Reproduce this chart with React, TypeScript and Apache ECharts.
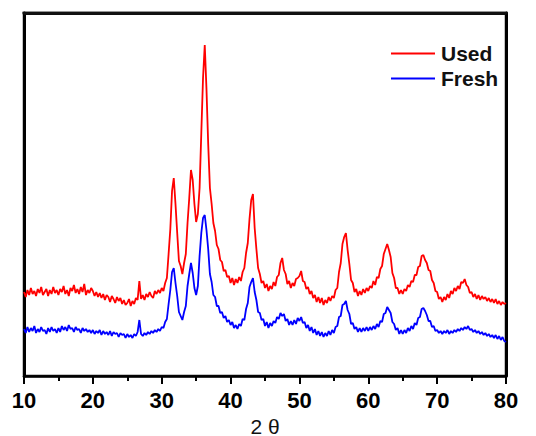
import React, { useEffect, useRef } from "react";
import * as echarts from "echarts";

// 2θ grid of the scan (degrees)
const angleStart = 10;
const angleStep = 0.25;
const xTickValues = [10, 20, 30, 40, 50, 60, 70, 80];
const seriesNames = ["Used", "Fresh"];
const yTop = 363;

// intensity (arbitrary units, offset traces), one value every 0.25°
const usedIntensity = [
  84, 79, 86, 81, 88, 82, 85, 80, 87, 83, 89, 81, 84, 87, 80, 86, 82, 89, 83, 86,
  81, 87, 84, 90, 82, 86, 80, 88, 85, 91, 83, 87, 82, 89, 84, 92, 81, 86, 83, 88,
  85, 80, 84, 79, 83, 78, 82, 76, 81, 79, 74, 80, 77, 73, 79, 75, 78, 72, 76, 71,
  73, 77, 70, 75, 72, 78, 76, 95, 77, 81, 76, 82, 79, 84, 80, 78, 85, 82, 86, 83,
  88, 85, 93, 98, 122, 147, 185, 198, 172, 143, 115, 110, 102, 113, 122, 153, 178, 206, 196, 172,
  154, 162, 188, 243, 298, 331, 287, 232, 188, 172, 153, 145, 131, 127, 116, 114, 105, 106, 99, 100,
  93, 98, 91, 97, 93, 99, 95, 104, 108, 123, 133, 157, 176, 182, 148, 127, 108, 102, 93, 95,
  88, 92, 85, 90, 87, 94, 90, 99, 101, 113, 118, 106, 102, 92, 95, 88, 93, 90, 97, 98,
  100, 105, 95, 94, 87, 89, 82, 85, 78, 81, 74, 79, 73, 78, 71, 76, 73, 79, 75, 80,
  78, 86, 88, 104, 113, 132, 139, 143, 126, 112, 96, 93, 84, 87, 80, 85, 81, 87, 83, 88,
  85, 90, 88, 95, 91, 99, 98, 107, 110, 122, 127, 132, 126, 119, 103, 98, 88, 88, 82, 86,
  82, 87, 85, 91, 89, 95, 94, 101, 101, 109, 110, 120, 121, 116, 113, 106, 105, 96, 93, 85,
  84, 77, 79, 74, 79, 76, 82, 78, 85, 82, 88, 85, 90, 87, 94, 93, 97, 91, 89, 83,
  84, 79, 82, 77, 81, 76, 80, 77, 79, 75, 78, 74, 77, 73, 77, 72, 75, 71, 74, 72,
  73,
];

const freshIntensity = [
  47, 43, 49, 44, 48, 45, 50, 43, 47, 44, 49, 45, 46, 42, 48, 44, 49, 45, 47, 43,
  48, 44, 50, 46, 49, 45, 51, 47, 48, 44, 49, 46, 47, 43, 48, 45, 47, 44, 46, 43,
  46, 42, 45, 43, 46, 41, 45, 42, 44, 41, 45, 40, 44, 42, 43, 39, 43, 41, 42, 38,
  42, 39, 41, 38, 42, 40, 44, 56, 42, 40, 43, 41, 44, 42, 45, 43, 46, 44, 47, 45,
  49, 48, 54, 57, 72, 86, 104, 108, 93, 80, 64, 60, 56, 64, 70, 90, 102, 113, 103, 88,
  81, 90, 120, 143, 158, 161, 146, 127, 102, 94, 81, 79, 70, 70, 63, 64, 58, 60, 54, 56,
  51, 54, 48, 51, 47, 52, 50, 57, 56, 67, 73, 89, 94, 98, 84, 76, 64, 63, 56, 57,
  50, 54, 48, 53, 50, 55, 53, 59, 57, 63, 60, 62, 55, 57, 51, 55, 51, 56, 52, 58,
  55, 59, 53, 54, 48, 51, 45, 49, 43, 47, 41, 45, 40, 44, 39, 43, 40, 45, 41, 46,
  43, 49, 50, 59, 60, 71, 72, 75, 66, 62, 52, 53, 47, 49, 44, 48, 44, 48, 45, 49,
  45, 49, 46, 50, 47, 52, 49, 55, 54, 62, 63, 69, 66, 63, 54, 52, 46, 48, 42, 46,
  42, 46, 43, 48, 45, 50, 47, 53, 51, 58, 59, 67, 68, 65, 61, 55, 55, 49, 50, 45,
  46, 43, 45, 42, 45, 43, 46, 42, 45, 43, 46, 44, 47, 45, 48, 46, 49, 47, 50, 46,
  47, 44, 46, 43, 45, 42, 44, 41, 43, 40, 42, 39, 41, 38, 41, 37, 40, 36, 39, 35,
  34,
];

const FONT = "'Liberation Sans', Arial, Helvetica, sans-serif";
const RED = "#ff0000";
const BLUE = "#0000ff";

const GRID = { left: 24, right: 30, top: 13, bottom: 60 };
const WIDTH = 536;
const HEIGHT = 436;

export default function App() {
  const ref = useRef<HTMLDivElement>(null);

  useEffect(() => {
    if (!ref.current) return;
    const chart = echarts.init(ref.current, null, { renderer: "svg" });
    const toPairs = (vals: number[]) =>
      vals.map((v, i) => [angleStart + i * angleStep, v]);

    const hiddenAxisBits = {
      axisTick: { show: false },
      axisLabel: { show: false },
      splitLine: { show: false },
      minorTick: { show: false },
    };

    chart.setOption({
      animation: false,
      backgroundColor: "#ffffff",
      grid: {
        ...GRID,
        outerBoundsMode: "none",
        containLabel: false,
        show: true,
        borderColor: "#111",
        borderWidth: 2.5,
      },
      graphic: [
        {
          type: "rect",
          z: 100,
          zlevel: 1,
          silent: true,
          shape: { x: GRID.left - 1.5, y: GRID.top - 1.25, width: WIDTH - GRID.left - GRID.right + 3, height: 2.5 },
          style: { fill: "#111" },
        },
      ],
      legend: {
        data: [
          { name: seriesNames[0], icon: "rect", itemStyle: { color: RED } },
          { name: seriesNames[1], icon: "rect", itemStyle: { color: BLUE } },
        ],
        orient: "vertical",
        left: 391,
        top: 43,
        itemWidth: 44,
        itemHeight: 2,
        itemGap: 4,
        padding: 0,
        textStyle: { fontSize: 21, fontWeight: "bold", color: "#111", fontFamily: FONT, padding: [0, 0, 0, 1] },
      },
      xAxis: {
        type: "value",
        min: 10,
        max: 80,
        interval: 10,
        position: "bottom",
        name: "2 θ",
        nameLocation: "middle",
        nameGap: 33,
        nameTextStyle: { fontSize: 21, color: "#111", fontFamily: FONT },
        axisLine: { show: true, onZero: false, lineStyle: { color: "#000", width: 2.5 } },
        axisTick: { show: true, inside: false, length: 8, lineStyle: { color: "#000", width: 2 } },
        minorTick: { show: true, splitNumber: 2, length: 5, lineStyle: { color: "#000", width: 2 } },
        axisLabel: {
          fontSize: 22,
          fontWeight: "bold",
          color: "#000",
          fontFamily: FONT,
          margin: 13,
          formatter: (v: number) => (xTickValues.includes(v) ? String(v) : ""),
        },
        splitLine: { show: false },
      },
      yAxis: [
        {
          type: "value",
          min: 0,
          max: yTop,
          position: "left",
          axisLine: { show: true, onZero: false, lineStyle: { color: "#000", width: 3 } },
          ...hiddenAxisBits,
        },
        {
          type: "value",
          min: 0,
          max: yTop,
          position: "right",
          axisLine: { show: true, onZero: false, lineStyle: { color: "#000", width: 3 } },
          ...hiddenAxisBits,
        },
      ],
      series: [
        {
          name: seriesNames[0],
          type: "line",
          xAxisIndex: 0,
          yAxisIndex: 0,
          data: toPairs(usedIntensity),
          symbol: "none",
          lineStyle: { color: RED, width: 1.8 },
          itemStyle: { color: RED },
          z: 3,
          markLine: {
            silent: true,
            symbol: ["none", "none"],
            label: { show: false },
            lineStyle: { color: "#111", width: 3, type: "solid" },
            emphasis: { disabled: true },
            data: [{ yAxis: yTop - 0.5 }],
          },
        },
        {
          name: seriesNames[1],
          type: "line",
          xAxisIndex: 0,
          yAxisIndex: 0,
          data: toPairs(freshIntensity),
          symbol: "none",
          lineStyle: { color: BLUE, width: 1.8 },
          itemStyle: { color: BLUE },
          z: 2,
        },
      ],
    });

    return () => chart.dispose();
  }, []);

  return (
    <div
      ref={ref}
      style={{ position: "fixed", left: 0, top: 0, width: WIDTH, height: HEIGHT, background: "#fff" }}
    />
  );
}
